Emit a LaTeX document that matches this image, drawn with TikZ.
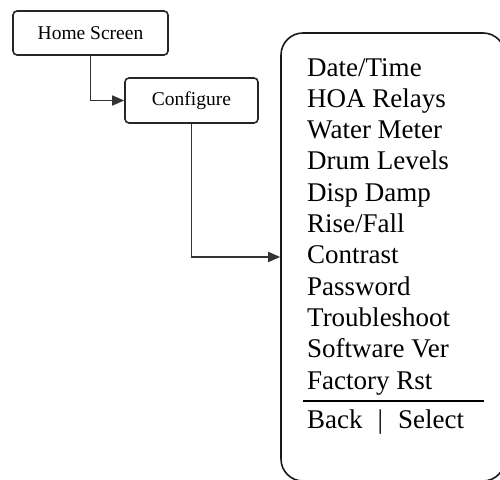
\documentclass[tikz,border=0pt]{standalone}
\usepackage{fontspec}
\setmainfont{Liberation Serif}
\usetikzlibrary{arrows.meta}

\begin{document}
\begin{tikzpicture}[
   x=1pt, y=-1pt,
   screen/.style={draw=black!85, line width=1.6pt, rounded corners=4pt,
                  inner sep=0pt, font=\fontsize{19.5}{22}\selectfont},
   menubox/.style={draw=black!90, line width=1.6pt, rounded corners=22pt,
                   inner sep=0pt},
   flow/.style={draw=black!80, line width=1.6pt,
                -{Triangle[length=12pt,width=10pt]}},
   item/.style={inner sep=0pt, align=left,
                font=\fontsize{27}{31.3}\selectfont}]

\clip (0,0) rectangle (500,479);

\node[screen, minimum width=155pt, minimum height=44pt] (home) at (90.5,33) {Home Screen};
\node[screen, minimum width=133pt, minimum height=45pt] (conf) at (191.5,100.5) {Configure};
\node[menubox, minimum width=224pt, minimum height=448pt] (menu) at (393,257) {};

% menu entries, placed by the baseline of the last one
\node[item, anchor=base west] (items) at (307,389)
   {Date/Time\\ HOA Relays\\ Water Meter\\ Drum Levels\\ Disp Damp\\ Rise/Fall\\
    Contrast\\ Password\\ Troubleshoot\\ Software Ver\\ Factory Rst};
\draw[line width=2.6pt] (303,401) -- (484,401);
\node[item, anchor=base west] (keys) at (307,428)
   {Back\hspace{15pt}|\hspace{15pt}Select};

\draw[flow] (home.south) |- (conf.west);
\draw[flow] (conf.south) |- (menu.west);

\end{tikzpicture}
\end{document}
